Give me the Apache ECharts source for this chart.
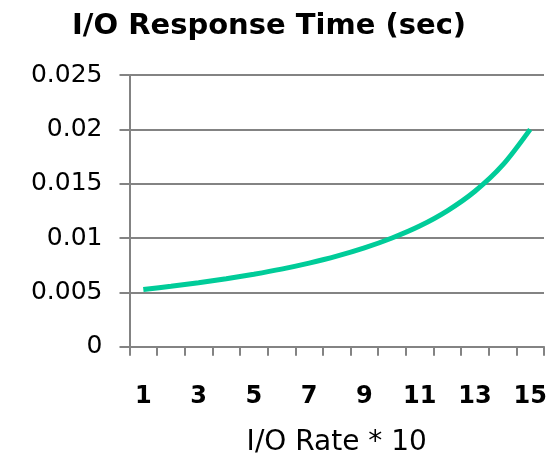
<!DOCTYPE html>
<html>
<head>
<meta charset="utf-8">
<script src="https://cdn.jsdelivr.net/npm/echarts@6/dist/echarts.min.js"></script>
<style>html,body{margin:0;padding:0;background:#fff;}#c{width:552px;height:457px;}</style>
</head>
<body>
<div id="c"></div>
<script>
const categories = ['1','2','3','4','5','6','7','8','9','10','11','12','13','14','15'];
const responseTime = [0.00526, 0.00556, 0.00588, 0.00625, 0.00667, 0.00714, 0.00769, 0.00833, 0.00909, 0.0100, 0.0111, 0.0125, 0.0143, 0.0167, 0.0200];
const yTicks = {min: 0, max: 0.025, interval: 0.005};

const chart = echarts.init(document.getElementById('c'), null, {renderer: 'canvas'});
const grey = '#838383';
chart.setOption({
  animation: false,
  backgroundColor: '#ffffff',
  title: {
    text: 'I/O Response Time (sec)',
    left: 67,
    top: 7,
    textStyle: {fontFamily: 'DejaVu Sans', fontWeight: 'bold', fontSize: 29, color: '#000'}
  },
  grid: {left: 129.5, right: 8, top: 75, bottom: 110.3, containLabel: false, outerBoundsMode: 'none'},
  xAxis: {
    type: 'category',
    data: categories,
    boundaryGap: true,
    name: 'I/O Rate * 10',
    nameLocation: 'middle',
    nameGap: 82,
    nameTextStyle: {fontFamily: 'DejaVu Sans', fontSize: 28, color: '#000'},
    axisLine: {show: true, lineStyle: {color: grey, width: 2}},
    axisTick: {show: true, length: 9, alignWithLabel: false, interval: 0, lineStyle: {color: grey, width: 2}},
    axisLabel: {interval: 1, margin: 38, fontFamily: 'DejaVu Sans', fontWeight: 'bold', fontSize: 24, color: '#000'},
    splitLine: {show: false}
  },
  yAxis: {
    type: 'value',
    min: yTicks.min,
    max: yTicks.max,
    interval: yTicks.interval,
    axisLine: {show: true, lineStyle: {color: grey, width: 2}},
    axisTick: {show: true, length: 10, lineStyle: {color: grey, width: 2}},
    axisLabel: {margin: 27, fontFamily: 'DejaVu Sans', fontSize: 25, color: '#000'},
    splitLine: {show: true, lineStyle: {color: grey, width: 2}}
  },
  series: [{
    type: 'line',
    data: responseTime,
    smooth: 0.3,
    showSymbol: false,
    symbol: 'none',
    lineStyle: {color: '#00cc99', width: 5},
    itemStyle: {color: '#00cc99'}
  }]
});
</script>
</body>
</html>
